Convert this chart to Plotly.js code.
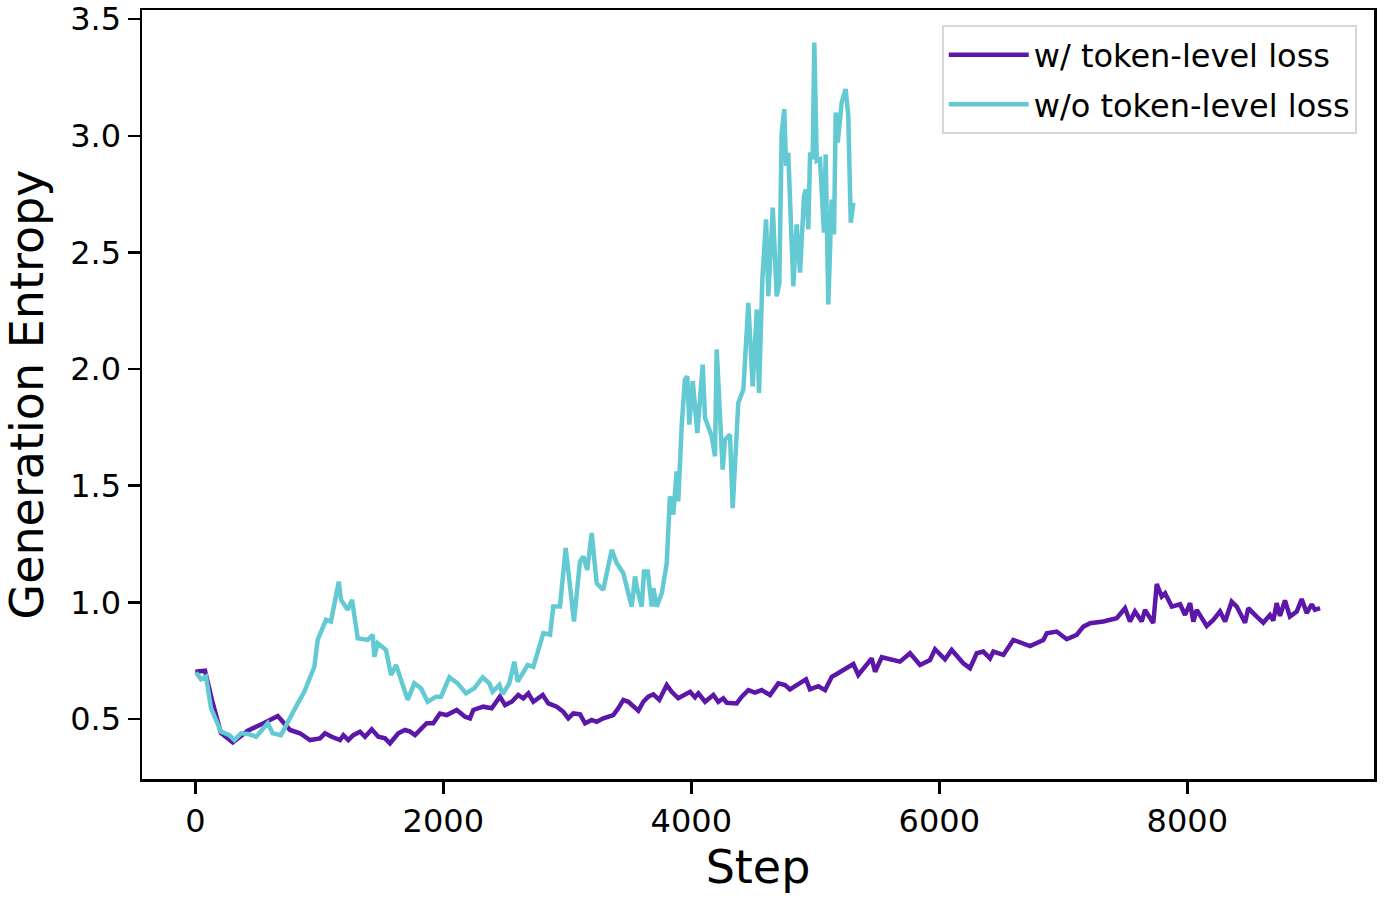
<!DOCTYPE html>
<html>
<head>
<meta charset="utf-8">
<script src="https://cdn.plot.ly/plotly-3.0.1.min.js"></script>
<style>html,body{margin:0;padding:0;background:#fff;}#chart{width:1384px;height:900px;}</style>
</head>
<body>
<div id="chart"></div>
<script>
const withSteps = [0,78,135,207,302,423,554,665,764,844,885,925,1006,1046,1100,1167,1194,1234,1274,1328,1369,1423,1476,1530,1570,1637,1691,1732,1772,1826,1866,1919,1973,2028,2108,2175,2215,2242,2323,2390,2457,2498,2552,2605,2645,2686,2726,2802,2847,2915,2968,3008,3049,3103,3143,3197,3237,3291,3371,3411,3452,3492,3573,3613,3653,3694,3742,3802,3842,3895,3949,3990,4030,4057,4111,4178,4218,4258,4286,4366,4407,4460,4514,4568,4635,4702,4756,4796,4863,4925,4957,5024,5079,5133,5173,5240,5307,5347,5401,5455,5482,5536,5683,5764,5845,5925,5966,6046,6100,6194,6248,6302,6355,6409,6436,6517,6597,6678,6732,6839,6867,6947,7028,7108,7162,7216,7323,7431,7498,7538,7578,7633,7659,7726,7754,7794,7821,7875,7942,7982,8023,8049,8076,8157,8210,8264,8305,8358,8399,8466,8492,8560,8613,8667,8694,8721,8748,8788,8828,8883,8923,8963,9004,9030,9071];
const withEntropy = [0.703,0.707,0.58,0.44,0.40,0.45,0.483,0.513,0.453,0.439,0.424,0.41,0.417,0.439,0.424,0.41,0.431,0.41,0.431,0.446,0.424,0.456,0.424,0.417,0.396,0.439,0.453,0.446,0.431,0.46,0.482,0.482,0.524,0.517,0.539,0.51,0.503,0.539,0.553,0.546,0.596,0.56,0.574,0.603,0.589,0.61,0.574,0.603,0.567,0.553,0.531,0.503,0.524,0.52,0.482,0.496,0.488,0.503,0.517,0.546,0.582,0.574,0.536,0.574,0.596,0.606,0.582,0.646,0.617,0.589,0.603,0.617,0.593,0.61,0.574,0.603,0.574,0.589,0.57,0.567,0.596,0.624,0.613,0.624,0.603,0.653,0.646,0.627,0.65,0.67,0.627,0.641,0.624,0.681,0.693,0.717,0.736,0.689,0.724,0.76,0.703,0.765,0.746,0.782,0.732,0.753,0.799,0.756,0.796,0.739,0.718,0.782,0.789,0.76,0.789,0.775,0.839,0.825,0.813,0.839,0.868,0.875,0.842,0.861,0.896,0.911,0.918,0.932,0.975,0.918,0.961,0.918,0.968,0.911,1.079,1.025,1.039,0.982,0.992,0.946,0.997,0.918,0.968,0.899,0.925,0.961,0.918,1.003,0.982,0.913,0.975,0.939,0.913,0.946,0.922,0.997,0.942,1.008,0.939,0.961,1.014,0.954,0.992,0.968,0.975];

const withoutSteps = [6,46,86,127,207,274,315,369,423,490,584,624,691,745,812,879,960,987,1054,1094,1157,1175,1229,1264,1310,1390,1431,1444,1471,1538,1578,1619,1659,1713,1766,1820,1874,1941,1982,2049,2116,2183,2250,2318,2371,2398,2452,2479,2532,2573,2600,2681,2726,2807,2861,2887,2941,2987,3054,3102,3129,3161,3197,3237,3290,3331,3358,3399,3452,3492,3520,3546,3565,3600,3619,3649,3681,3694,3721,3762,3802,3828,3855,3882,3895,3923,3949,3968,3984,4012,4049,4092,4111,4165,4191,4205,4232,4253,4272,4312,4334,4379,4420,4460,4495,4528,4546,4573,4603,4621,4657,4689,4710,4729,4750,4764,4782,4823,4850,4877,4909,4925,4944,4958,4979,4992,5012,5038,5070,5084,5105,5132,5151,5165,5181,5213,5245,5266,5286,5307];
const withoutEntropy = [0.699,0.670,0.682,0.546,0.446,0.431,0.41,0.439,0.436,0.424,0.482,0.439,0.431,0.488,0.553,0.617,0.724,0.839,0.925,0.918,1.089,1.011,0.968,1.011,0.846,0.839,0.861,0.767,0.825,0.796,0.689,0.732,0.667,0.582,0.653,0.632,0.574,0.596,0.596,0.679,0.653,0.61,0.632,0.679,0.653,0.617,0.646,0.607,0.653,0.746,0.66,0.732,0.724,0.868,0.861,0.982,0.982,1.233,0.918,1.175,1.197,1.139,1.297,1.082,1.054,1.168,1.225,1.168,1.125,1.039,0.982,1.111,1.054,0.982,1.132,1.132,0.982,1.061,0.982,1.039,1.168,1.454,1.376,1.561,1.433,1.762,1.955,1.969,1.762,1.948,1.726,2.019,1.79,1.712,1.626,2.084,1.769,1.569,1.697,1.719,1.404,1.855,1.912,2.284,1.926,2.255,1.898,2.384,2.642,2.312,2.692,2.312,2.37,3.014,3.114,2.871,2.928,2.355,2.62,2.413,2.742,2.77,2.599,2.928,2.899,3.40,2.892,2.899,2.585,2.92,2.277,2.727,2.577,3.10,2.971,3.143,3.20,3.085,2.627,2.713];

const seriesNames = ["w/ token-level loss", "w/o token-level loss"];
const xTicks = [0, 2000, 4000, 6000, 8000];
const yTicks = [0.5, 1.0, 1.5, 2.0, 2.5, 3.0, 3.5];
const yTickText = ["0.5", "1.0", "1.5", "2.0", "2.5", "3.0", "3.5"];

const FONT = "DejaVu Sans, sans-serif";

const traces = [
  {x: withSteps, y: withEntropy, type: "scatter", mode: "lines", name: seriesNames[0],
   legendgroup: "a", line: {color: "#5c17a9", width: 4.5}},
  {x: withoutSteps, y: withoutEntropy, type: "scatter", mode: "lines", name: seriesNames[1],
   legendgroup: "b", line: {color: "#63c9d3", width: 4.5}}
];

const axisCommon = {
  showline: true, linecolor: "#000", linewidth: 2.5, mirror: true,
  ticks: "outside", ticklen: 12, tickwidth: 2.5, tickcolor: "#000",
  showgrid: false, zeroline: false,
  tickfont: {family: FONT, size: 32, color: "#000"}
};

const layout = {
  width: 1384, height: 900,
  margin: {l: 142, r: 10, t: 10, b: 121},
  paper_bgcolor: "#fff", plot_bgcolor: "#fff",
  font: {family: FONT, color: "#000"},
  xaxis: Object.assign({}, axisCommon, {
    range: [-430, 9506], tickvals: xTicks, ticktext: xTicks.map(String),
    title: {text: "Step", font: {family: FONT, size: 46, color: "#000"}, standoff: 12}
  }),
  yaxis: Object.assign({}, axisCommon, {
    range: [0.243, 3.539], tickvals: yTicks, ticktext: yTickText,
    title: {text: "Generation Entropy", font: {family: FONT, size: 46, color: "#000"}, standoff: 14}
  }),
  showlegend: true,
  legend: {
    x: 0.986, y: 0.98, xanchor: "right", yanchor: "top",
    bgcolor: "rgba(255,255,255,0.8)", bordercolor: "#d6d6d6", borderwidth: 2,
    font: {family: FONT, size: 32, color: "#000"},
    itemwidth: 80, tracegroupgap: 5
  }
};

Plotly.newPlot("chart", traces, layout, {displayModeBar: false, staticPlot: true});
</script>
</body>
</html>
